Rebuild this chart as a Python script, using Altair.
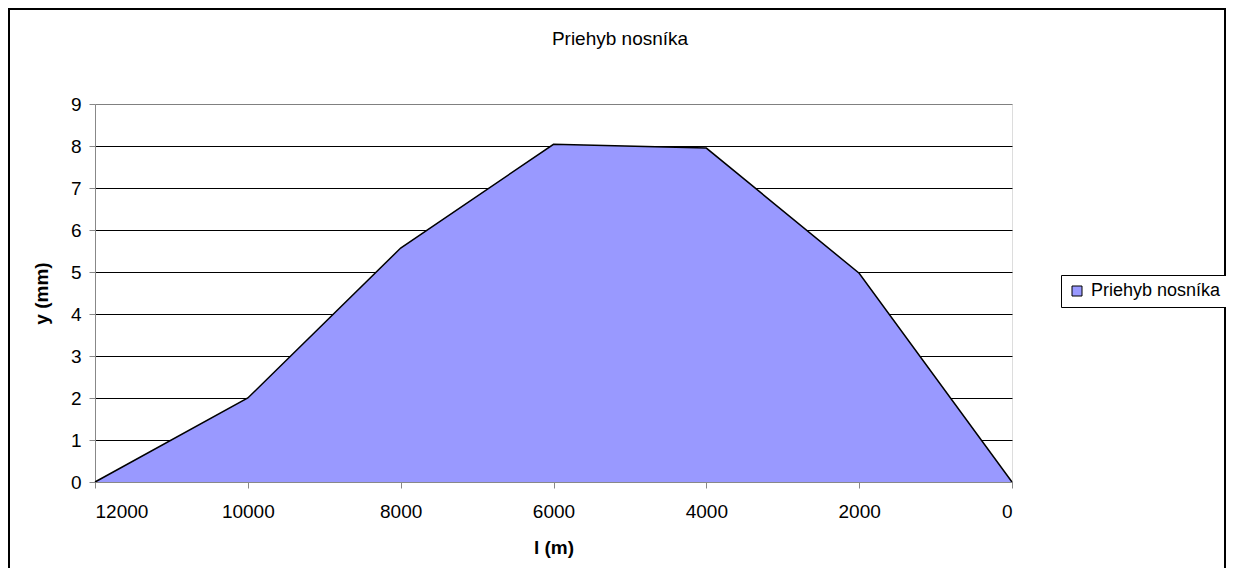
import altair as alt
import pandas as pd

# ---- data ----
l_m = [12000, 10000, 8000, 6000, 4000, 2000, 0]
y_mm = [0.0, 2.0, 5.57, 8.04, 7.95, 4.97, 0.0]
series_name = "Priehyb nosníka"
chart_title = "Priehyb nosníka"
x_ticks = [12000, 10000, 8000, 6000, 4000, 2000, 0]
y_ticks = [0, 1, 2, 3, 4, 5, 6, 7, 8, 9]

FONT = "Liberation Sans"
FILL = "#9999FF"

df = pd.DataFrame({"l": l_m, "y": y_mm, "s": [series_name] * len(l_m)})

x_enc = alt.X(
    "l:Q",
    scale=alt.Scale(domain=[0, 12000], reverse=True, nice=False, zero=False),
    axis=alt.Axis(
        values=x_ticks,
        format="d",
        title="l (m)",
        grid=False,
        tickSize=6,
        labelPadding=14,
        labelFontSize=19,
        titleFontSize=19,
        titleFontWeight="bold",
        titleX=458.5,
        titleY=65,
        titleBaseline="middle",
        titleAlign="center",
        zindex=1,
    ),
)

y_enc = alt.Y(
    "y:Q",
    scale=alt.Scale(domain=[0, 9], nice=False),
    axis=alt.Axis(
        values=y_ticks,
        title="y (mm)",
        grid=True,
        gridColor={"condition": {"test": "datum.value === 9", "value": "#808080"}, "value": "black"},
        gridWidth=1.2,
        tickSize=6,
        labelPadding=8,
        labelFontSize=19,
        titleFontSize=19,
        titleFontWeight="bold",
        titleX=-54,
        titleY=189,
        titleAngle=270,
        titleAlign="center",
        titleBaseline="middle",
    ),
)

area = alt.Chart(df).mark_area(opacity=1).encode(
    x=x_enc,
    y=y_enc,
    color=alt.Color(
        "s:N",
        scale=alt.Scale(domain=[series_name], range=[FILL]),
        legend=alt.Legend(
            title=None,
            orient="none",
            legendX=966,
            legendY=171,
            direction="vertical",
            strokeColor="black",
            fillColor="white",
            padding=7,
            symbolType="square",
            symbolSize=100,
            symbolStrokeColor="black",
            symbolStrokeWidth=1,
            symbolOpacity=1,
            labelFont=FONT,
            labelFontSize=18,
            labelColor="black",
            labelOffset=5,
            labelLimit=400,
        ),
    ),
)

line = alt.Chart(df).mark_line(color="black", strokeWidth=1.5).encode(
    x="l:Q", y="y:Q"
)

border = alt.Chart(pd.DataFrame({"k": [0]})).mark_rect(
    fill="transparent", stroke="black", strokeWidth=2
).encode(
    x=alt.value(-86), x2=alt.value(1130), y=alt.value(-95), y2=alt.value(520)
)

title_text = alt.Chart(pd.DataFrame({"t": [chart_title]})).mark_text(
    font=FONT, fontSize=19, color="black", align="center", baseline="alphabetic"
).encode(
    text="t:N", x=alt.value(525), y=alt.value(-59)
)

chart = (
    alt.layer(area, line, border, title_text)
    .properties(
        width=917,
        height=378,
        autosize=alt.AutoSizeParams(type="none"),
        padding={"left": 87, "top": 96, "right": 214, "bottom": 86},
    )
    .configure_axis(
        labelFont=FONT,
        titleFont=FONT,
        labelColor="black",
        titleColor="black",
        tickColor="black",
        domainColor="black",
        domainWidth=1,
    )
    .configure_view(stroke="#808080", strokeWidth=1)
    .configure(background="white")
)

chart.save("out.html", embed_options={"renderer": "svg", "actions": False})
